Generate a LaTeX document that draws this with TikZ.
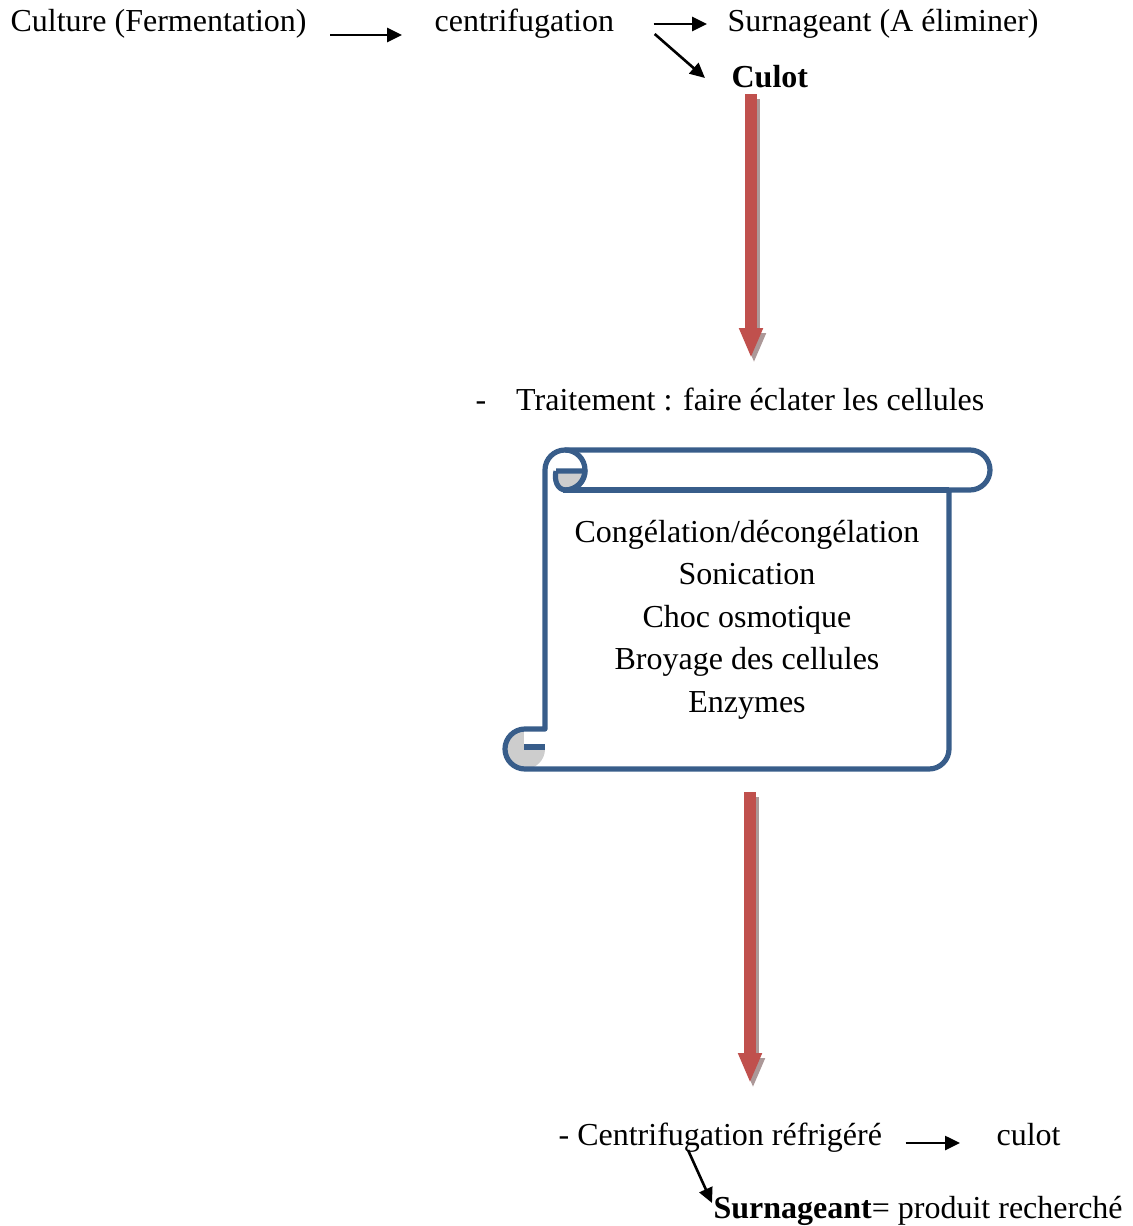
\documentclass[tikz,border=0pt]{standalone}
\usepackage{fontspec}
\setmainfont{Liberation Serif}
\usepackage{tikz}
\usetikzlibrary{arrows.meta,positioning}
\definecolor{scrollblue}{RGB}{56,93,138}
\definecolor{arrowred}{RGB}{192,80,77}
\definecolor{shadowgrey}{RGB}{172,152,152}
\definecolor{curlgrey}{RGB}{205,205,205}

\begin{document}
\begin{tikzpicture}[x=0.5pt,y=-0.5pt,>={Triangle[length=7.5pt,width=7pt]},
                    semithick]
  \tikzstyle{every node}=[inner sep=0pt,font=\fontsize{16}{21.25}\selectfont]
  \tikzstyle{txt}=[anchor=base west]
  \tikzstyle{thin arrow}=[->,line width=1.3pt,black]
  \tikzstyle{big arrow}=[line width=6pt,arrowred,-{Triangle[length=15pt,width=11pt]}]
  \tikzstyle{big shadow}=[big arrow,shadowgrey]
  \tikzstyle{scroll}=[line width=2.6pt,scrollblue,line join=round]

  \useasboundingbox (0,0) rectangle (1133,1226);

  % first centrifugation
  \node[txt] (cult)   at (10,32)  {Culture (Fermentation)};
  \node[txt] (centri) at (434,32) {centrifugation};
  \node[txt] (surn)   at (727,32) {Surnageant (A éliminer)};
  \node[txt] (culot)  at (731,87) {\textbf{Culot}};

  \path ([shift={(23,3)}]cult.base east) edge[thin arrow] ([shift={(-32,3)}]centri.base west)
        ([shift={(39,-8)}]centri.base east) edge[thin arrow] ([shift={(-20,-8)}]surn.base west)
        ([shift={(40,2)}]centri.base east) edge[thin arrow] ([shift={(-26,-9)}]culot.base west);

  % red arrow down to the treatment
  \coordinate (r1top) at (751,94);
  \coordinate (r1tip) at (751,358);
  \draw[big shadow] ([shift={(3,5)}]r1top) -- ([shift={(3,5)}]r1tip);
  \draw[big arrow] (r1top) -- (r1tip);

  \node[txt] (trait) at (475,410) {-\hspace{15pt}Traitement : faire éclater les cellules};

  % scroll
  \fill[curlgrey] (525,749) circle[radius=20];
  \fill[white] (524,731) rectangle (545,747);
  \draw[scroll] (524,747) -- (545,747);
  \draw[scroll] (545,729) -- (545,470) arc[start angle=180,end angle=270,radius=20]
        -- (970,450) arc[start angle=270,end angle=450,radius=20]
        -- (949,490) -- (949,749) arc[start angle=0,end angle=90,radius=20]
        -- (525,769) arc[start angle=90,end angle=270,radius=20] -- cycle;
  \draw[scroll] (949,490) -- (563,490);
  \draw[scroll,fill=curlgrey] (556,471) -- (585,471) arc[start angle=0,end angle=90,radius=19]
        .. controls (557,490) and (554,480) .. (556,471);
  \draw[scroll] (565,450) arc[start angle=270,end angle=450,radius=20];

  \node[align=center] (methods) at (747,619.5)
        {Congélation/décongélation\\Sonication\\Choc osmotique\\Broyage des cellules\\Enzymes};

  % red arrow down to the second centrifugation
  \coordinate (r2top) at (750,792);
  \coordinate (r2tip) at (750,1083);
  \draw[big shadow] ([shift={(3,5)}]r2top) -- ([shift={(3,5)}]r2tip);
  \draw[big arrow] (r2top) -- (r2tip);

  % refrigerated centrifugation
  \node[txt] (centri2) at (558,1145) {- Centrifugation réfrigéré};
  \node[txt] (culot2)  at (996,1145) {culot};
  \node[txt] (surn2)   at (713,1218) {\textbf{Surnageant}= produit recherché};

  \path ([shift={(23,-2)}]centri2.base east) edge[thin arrow] ([shift={(-36,-2)}]culot2.base west)
        ([shift={(130,5)}]centri2.base west) edge[thin arrow] ([shift={(-1,-15)}]surn2.base west);
\end{tikzpicture}
\end{document}
